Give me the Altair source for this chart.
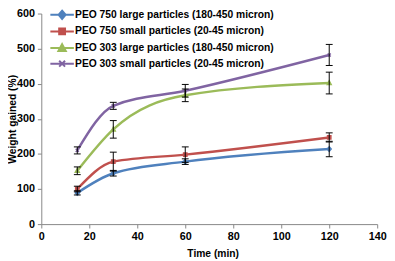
import altair as alt
import pandas as pd

series = [
    "PEO 750 large particles (180-450 micron)",
    "PEO 750 small particles (20-45 micron)",
    "PEO 303 large particles (180-450 micron)",
    "PEO 303 small particles (20-45 micron)",
]
colors = ["#4F81BD", "#C0504D", "#9BBB59", "#8064A2"]
times = [15, 30, 60, 120]
values = [
    [89, 145, 178, 214],
    [100, 178, 198, 247],
    [152, 270, 367, 402],
    [210, 337, 380, 482],
]
errors = [
    [6, 8, 8, 22],
    [8, 27, 22, 13],
    [11, 25, 18, 31],
    [10, 10, 18, 30],
]
x_ticks = [0, 20, 40, 60, 80, 100, 120, 140]
y_ticks = [0, 100, 200, 300, 400, 500, 600]

marker_paths = [
    "M0,-1.15L1,0L0,1.15L-1,0Z",
    "M-0.85,-0.85H0.85V0.85H-0.85Z",
    "M0,-1.1L1,0.8L-1,0.8Z",
    "M-0.8,-0.8L0.8,0.8M-0.8,0.8L0.8,-0.8",
]
legend_paths = [
    "M-3,0H3M0,-1.05L0.9,0L0,1.05L-0.9,0Z",
    "M-3,0H3M-0.75,-0.75H0.75V0.75H-0.75Z",
    "M-3,0H3M0,-1L0.95,0.75L-0.95,0.75Z",
    "M-3,0H3M-0.75,-0.75L0.75,0.75M-0.75,0.75L0.75,-0.75",
]

rows = []
for si, s in enumerate(series):
    for ti, t in enumerate(times):
        v = values[si][ti]
        e = errors[si][ti]
        rows.append({"series": s, "order": si, "time": t, "value": v,
                     "lo": v - e, "hi": v + e})
df = pd.DataFrame(rows)

font = "Liberation Sans"
xs = alt.Scale(domain=[0, 140], nice=False, zero=False)
ys = alt.Scale(domain=[0, 600], nice=False)

x_axis = alt.Axis(values=x_ticks, labelOverlap=False, labelFlush=False, title="Time (min)",
                  titleX=175, titleY=33, titleBaseline="alphabetic", titleAlign="center")
y_axis = alt.Axis(values=y_ticks, labelOverlap=False, title="Weight gained (%)",
                  titleX=-26, titleY=107.5, titleAngle=270, titleBaseline="alphabetic",
                  titleAlign="center")

cscale = alt.Scale(domain=series, range=colors)

base = alt.Chart(df)

lines = base.mark_line(interpolate="monotone", strokeWidth=2.5).encode(
    x=alt.X("time:Q", scale=xs, axis=x_axis),
    y=alt.Y("value:Q", scale=ys, axis=y_axis),
    color=alt.Color("series:N", scale=cscale, legend=None),
    detail="series:N",
)

points = base.mark_point(size=16, strokeWidth=1.5, opacity=1).encode(
    x=alt.X("time:Q", scale=xs, axis=x_axis),
    y=alt.Y("value:Q", scale=ys, axis=y_axis),
    fill=alt.Fill("series:N", scale=cscale, legend=None),
    stroke=alt.Stroke("series:N", scale=cscale, legend=None),
    shape=alt.Shape("series:N", scale=alt.Scale(domain=series, range=marker_paths), legend=None),
)

err = base.mark_rule(color="black", strokeWidth=1).encode(
    x=alt.X("time:Q", scale=xs, axis=x_axis),
    y=alt.Y("lo:Q", scale=ys, axis=y_axis),
    y2="hi:Q",
)
cap_lo = base.mark_point(shape="M-1,0H1", size=49, color="black", filled=False,
                         strokeWidth=1, opacity=1).encode(
    x=alt.X("time:Q", scale=xs, axis=x_axis), y=alt.Y("lo:Q", scale=ys, axis=y_axis))
cap_hi = base.mark_point(shape="M-1,0H1", size=49, color="black", filled=False,
                         strokeWidth=1, opacity=1).encode(
    x=alt.X("time:Q", scale=xs, axis=x_axis), y=alt.Y("hi:Q", scale=ys, axis=y_axis))

leg = alt.Legend(title=None, orient="none", legendX=16, legendY=-4, padding=0,
                 symbolSize=64, symbolStrokeWidth=2, labelOffset=8,
                 rowPadding=1, labelFont=font, labelFontSize=10.5,
                 labelFontWeight="bold", labelColor="black", symbolOpacity=1,
                 labelLimit=400)
legend_layer = base.transform_filter("false").mark_point(size=64, opacity=1).encode(
    x=alt.X("time:Q", scale=xs, axis=x_axis),
    y=alt.Y("value:Q", scale=ys, axis=y_axis),
    fill=alt.Fill("series:N", scale=cscale, legend=leg),
    stroke=alt.Stroke("series:N", scale=cscale, legend=leg),
    shape=alt.Shape("series:N", scale=alt.Scale(domain=series, range=legend_paths), legend=leg),
)

chart = alt.layer(lines, points, err, cap_lo, cap_hi, legend_layer).resolve_scale(
    shape="independent", fill="independent", stroke="independent", color="independent"
).properties(
    width=343, height=215,
    autosize=alt.AutoSizeParams(type="none"),
    padding={"left": 34, "top": 3, "right": 10, "bottom": 35},
).configure_view(stroke=None).configure_axis(
    grid=False,
    domainColor="#868686",
    tickColor="#868686",
    tickSize=4,
    labelFont=font, labelFontSize=11, labelFontWeight="bold", labelColor="black",
    titleFont=font, titleFontSize=10.5, titleFontWeight="bold", titleColor="black",
    labelPadding=3,
)

chart.save("out.html", embed_options={"renderer": "svg", "actions": False})
